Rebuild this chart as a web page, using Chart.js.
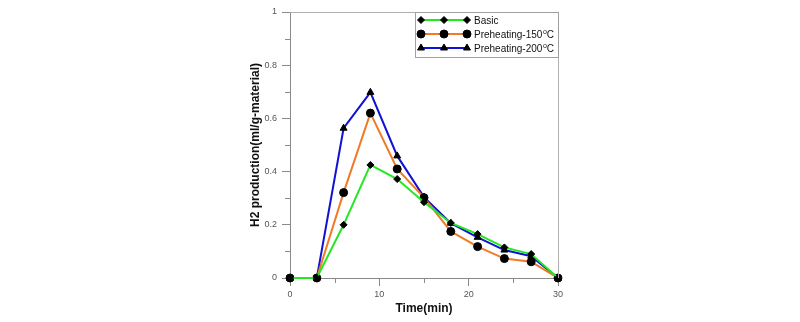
<!DOCTYPE html>
<html>
<head>
<meta charset="utf-8">
<title>H2 production</title>
<script src="https://cdn.jsdelivr.net/npm/chart.js@4.4.1/dist/chart.umd.min.js"></script>
<style>
  html, body { margin: 0; padding: 0; background: #fff; }
  #wrap { width: 800px; height: 322px; }
</style>
</head>
<body>
<div id="wrap"><canvas id="h2chart" width="800" height="322"></canvas></div>
<script>
const timeMin = [0, 3, 6, 9, 12, 15, 18, 21, 24, 27, 30];

const basic = [0, 0, 0.2, 0.425, 0.372, 0.285, 0.207, 0.165, 0.115, 0.09, 0];
const preheat150 = [0, 0, 0.321, 0.62, 0.41, 0.302, 0.175, 0.118, 0.073, 0.061, 0];
const preheat200 = [0, 0, 0.563, 0.698, 0.459, 0.304, 0.206, 0.153, 0.105, 0.082, 0];

// legend text: prefix, raised "o", trailing text
const seriesNames = [
  ['Basic', '', ''],
  ['Preheating-150', 'o', 'C'],
  ['Preheating-200', 'o', 'C']
];

const xMinorTicks = [5, 15, 25];
const yMinorTicks = [0.1, 0.3, 0.5, 0.7, 0.9];

const AXIS_GREY = '#8a8a8a';
const FONT = '"Liberation Sans", Arial, sans-serif';

function toPoints(values) {
  return values.map((v, i) => ({ x: timeMin[i], y: v }));
}

function series(label, values, color, style, radius) {
  return {
    label: label,
    data: toPoints(values),
    borderColor: color,
    borderWidth: 2,
    pointStyle: style,
    pointRadius: radius,
    pointBackgroundColor: '#000',
    pointBorderColor: '#000',
    pointBorderWidth: 1,
    tension: 0,
    clip: false
  };
}

// minor ticks plus the light top/right frame
const frameTicks = {
  id: 'frameTicks',
  afterDraw(chart) {
    const { ctx, chartArea: a, scales } = chart;
    ctx.save();
    ctx.lineWidth = 1;
    ctx.strokeStyle = '#b0b0b0';
    ctx.beginPath();
    ctx.moveTo(a.left, a.top + 0.5);
    ctx.lineTo(a.right + 0.5, a.top + 0.5);
    ctx.lineTo(a.right + 0.5, a.bottom);
    ctx.stroke();

    ctx.strokeStyle = AXIS_GREY;
    ctx.beginPath();
    xMinorTicks.forEach(v => {
      const px = Math.round(scales.x.getPixelForValue(v)) + 0.5;
      ctx.moveTo(px, a.bottom);
      ctx.lineTo(px, a.bottom + 5);
    });
    yMinorTicks.forEach(v => {
      const py = Math.round(scales.y.getPixelForValue(v)) + 0.5;
      ctx.moveTo(a.left - 5, py);
      ctx.lineTo(a.left, py);
    });
    ctx.stroke();
    ctx.restore();
  }
};

// boxed legend sitting in the upper right corner of the plot
const cornerLegend = {
  id: 'cornerLegend',
  afterDraw(chart) {
    const { ctx, chartArea: a } = chart;
    const boxW = 143, boxH = 45;
    const bx = a.right - boxW, by = a.top;
    ctx.save();
    ctx.fillStyle = '#fff';
    ctx.fillRect(bx, by, boxW, boxH);
    ctx.strokeStyle = '#a0a0a0';
    ctx.lineWidth = 1;
    ctx.strokeRect(bx + 0.5, by + 0.5, boxW, boxH);

    chart.data.datasets.forEach((ds, i) => {
      const y = by + 8 + i * 14;
      const x0 = bx + 6, x1 = bx + 52;
      ctx.strokeStyle = ds.borderColor;
      ctx.lineWidth = 2;
      ctx.beginPath();
      ctx.moveTo(x0, y);
      ctx.lineTo(x1, y);
      ctx.stroke();
      [x0, (x0 + x1) / 2, x1].forEach(px => {
        ctx.fillStyle = '#000';
        ctx.strokeStyle = '#000';
        ctx.lineWidth = 1;
        Chart.helpers.drawPoint(ctx, {
          pointStyle: ds.pointStyle,
          radius: ds.pointRadius,
          rotation: 0,
          borderWidth: 1
        }, px, y);
      });

      const [main, sup, tail] = seriesNames[i];
      let tx = bx + 59;
      ctx.fillStyle = '#111';
      ctx.textBaseline = 'middle';
      ctx.font = '10px ' + FONT;
      ctx.fillText(main, tx, y + 1);
      tx += ctx.measureText(main).width;
      if (sup) {
        ctx.font = '7px ' + FONT;
        ctx.fillText(sup, tx + 0.5, y - 2);
        tx += ctx.measureText(sup).width + 0.5;
        ctx.font = '10px ' + FONT;
        ctx.fillText(tail, tx, y + 1);
      }
    });
    ctx.restore();
  }
};

const tickFont = { family: FONT, size: 9 };
const titleFont = { family: FONT, size: 12, weight: 'bold' };

new Chart(document.getElementById('h2chart'), {
  type: 'line',
  data: {
    datasets: [
      series(seriesNames[0][0], basic, '#22e822', 'rectRot', 3.5),
      series('Preheating-150\u00B0C', preheat150, '#f07a26', 'circle', 4),
      series('Preheating-200\u00B0C', preheat200, '#1212d2', 'triangle', 4)
    ]
  },
  options: {
    responsive: false,
    animation: false,
    layout: { padding: { left: 244, right: 242, top: 12, bottom: 2 } },
    plugins: {
      legend: { display: false },
      tooltip: { enabled: false }
    },
    scales: {
      x: {
        type: 'linear',
        min: 0,
        max: 30,
        afterFit(scale) { scale.height = 42; },
        ticks: { stepSize: 10, color: '#555', font: tickFont, padding: 3, maxRotation: 0 },
        grid: { drawOnChartArea: false, drawTicks: true, tickLength: 8, color: AXIS_GREY },
        border: { color: AXIS_GREY, width: 1 },
        title: { display: true, text: 'Time(min)', color: '#111', font: titleFont }
      },
      y: {
        type: 'linear',
        min: 0,
        max: 1,
        afterFit(scale) { scale.width = 46; },
        ticks: {
          stepSize: 0.2,
          color: '#555',
          font: tickFont,
          padding: 5,
          callback: v => String(Number(v.toFixed(1)))
        },
        grid: { drawOnChartArea: false, drawTicks: true, tickLength: 8, color: AXIS_GREY },
        border: { color: AXIS_GREY, width: 1 },
        title: { display: true, text: 'H2 production(ml/g-material)', color: '#111', font: titleFont }
      }
    }
  },
  plugins: [frameTicks, cornerLegend]
});
</script>
</body>
</html>
